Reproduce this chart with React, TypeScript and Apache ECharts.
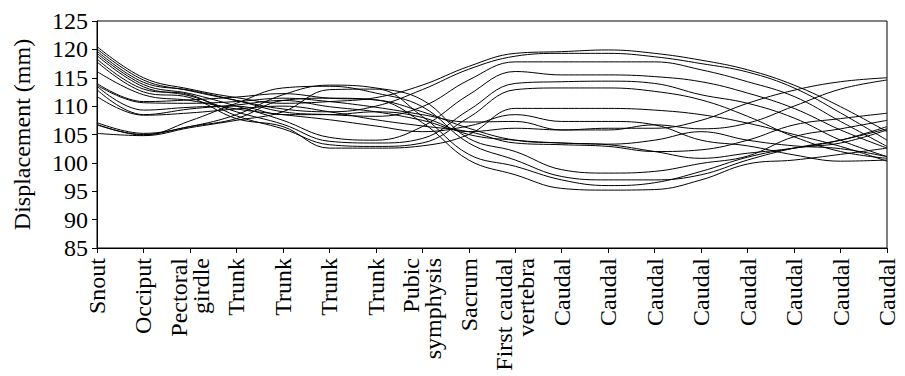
import React, { useEffect, useRef } from "react";
import * as echarts from "echarts";

const categories = [
  "Snout", "Occiput", "Pectoral\ngirdle", "Trunk", "Trunk", "Trunk", "Trunk",
  "Pubic\nsymphysis", "Sacrum", "First caudal\nvertebra",
  "Caudal", "Caudal", "Caudal", "Caudal", "Caudal", "Caudal", "Caudal", "Caudal",
];

const yTicks = { min: 85, max: 125, step: 5 };

const s1 = [120.5, 115.0, 113.0, 111.5, 110.5, 110.8, 111.5, 113.7, 117.0, 119.3, 119.6, 119.9, 119.3, 118.1, 116.4, 113.7, 109.9, 105.5];
const s2 = [120.1, 114.6, 112.7, 111.0, 109.5, 109.0, 110.0, 112.9, 116.5, 118.8, 119.3, 119.3, 118.7, 117.5, 116.0, 113.2, 108.8, 104.0];
const s3 = [119.7, 114.2, 112.8, 111.0, 109.0, 108.5, 108.2, 109.9, 114.6, 117.8, 117.8, 117.8, 117.8, 116.4, 114.3, 111.7, 107.3, 102.9];
const s4 = [119.3, 113.8, 112.2, 110.0, 107.5, 104.5, 104.0, 106.4, 112.0, 116.1, 115.5, 115.5, 115.2, 114.3, 112.3, 109.6, 105.8, 102.6];
const s5 = [118.9, 113.4, 111.8, 109.0, 106.8, 103.8, 103.5, 104.3, 109.3, 114.0, 114.3, 114.4, 114.0, 112.0, 110.5, 107.9, 104.0, 101.1];
const s6 = [118.3, 113.0, 112.0, 108.3, 106.0, 103.2, 102.9, 103.5, 108.0, 112.9, 113.2, 113.2, 112.6, 111.1, 108.2, 104.6, 102.0, 100.8];
const s7 = [117.8, 112.5, 111.5, 107.8, 106.4, 102.6, 102.6, 103.0, 105.0, 109.6, 109.6, 109.6, 109.3, 108.5, 107.0, 105.0, 102.9, 100.3];
const s8 = [116.1, 112.0, 111.0, 109.5, 108.5, 107.6, 106.5, 105.5, 106.5, 108.5, 107.3, 107.3, 106.7, 104.0, 103.0, 101.4, 100.3, 100.5];
const s9 = [114.0, 110.8, 111.1, 111.6, 112.2, 111.4, 111.1, 109.0, 106.1, 104.0, 103.5, 103.2, 102.0, 100.8, 101.7, 102.6, 104.0, 106.4];
const s10 = [113.7, 110.6, 110.5, 110.8, 111.4, 110.8, 109.8, 108.5, 107.2, 107.3, 105.8, 106.1, 106.1, 107.5, 110.5, 112.8, 114.3, 115.0];
const s11 = [112.9, 108.5, 109.5, 110.2, 111.0, 109.9, 109.0, 107.5, 105.5, 106.1, 105.8, 105.8, 106.7, 106.0, 107.0, 110.0, 113.0, 114.6];
const s12 = [111.7, 108.4, 108.8, 109.5, 110.0, 109.0, 107.6, 106.5, 105.5, 103.5, 103.2, 102.9, 102.0, 102.3, 104.0, 106.7, 107.8, 108.75];
const s13 = [107.1, 105.2, 106.4, 108.5, 112.0, 113.7, 113.2, 111.1, 104.3, 102.0, 98.8, 98.2, 98.5, 99.9, 101.2, 104.6, 106.0, 107.5];
const s14 = [106.8, 104.9, 107.4, 110.5, 113.2, 113.5, 112.3, 109.9, 103.5, 100.5, 97.6, 97.0, 97.0, 97.9, 100.5, 102.6, 104.0, 106.0];
const s15 = [105.2, 104.8, 106.2, 107.5, 109.0, 112.9, 113.0, 108.2, 101.5, 99.4, 97.0, 96.0, 96.5, 98.5, 101.0, 102.6, 103.5, 105.8];
const s16 = [106.7, 105.0, 106.4, 107.8, 111.0, 111.4, 111.1, 107.1, 100.5, 97.9, 95.5, 95.2, 95.3, 97.0, 99.8, 100.5, 101.5, 102.6];
const s17 = [113.5, 109.3, 109.8, 110.0, 108.5, 108.5, 109.0, 108.0, 105.0, 104.0, 103.5, 103.3, 104.0, 105.5, 104.0, 103.0, 102.5, 101.1];

const allSeries = [s1, s2, s3, s4, s5, s6, s7, s8, s9, s10, s11, s12, s13, s14, s15, s16, s17];

const FONT = "'Liberation Serif', 'Times New Roman', serif";

export default function App() {
  const ref = useRef<HTMLDivElement>(null);
  useEffect(() => {
    if (!ref.current) return;
    const chart = echarts.init(ref.current, undefined, { renderer: "svg" });
    chart.setOption({
      animation: false,
      backgroundColor: "#ffffff",
      grid: {
        left: 97,
        right: 18,
        top: 21,
        bottom: 128,
        show: true,
        borderColor: "#000",
        borderWidth: 1,
      },
      xAxis: {
        type: "category",
        data: categories,
        boundaryGap: false,
        axisLine: { lineStyle: { color: "#000", width: 1 } },
        axisTick: { show: true, length: 5, inside: false, lineStyle: { color: "#000" } },
        axisLabel: {
          rotate: 90,
          interval: 0,
          margin: 10,
          color: "#000",
          fontFamily: FONT,
          fontSize: 24,
          lineHeight: 22,
        },
        splitLine: { show: false },
      },
      yAxis: {
        type: "value",
        min: yTicks.min,
        max: yTicks.max,
        interval: yTicks.step,
        name: "Displacement (mm)",
        nameLocation: "middle",
        nameGap: 63,
        nameTextStyle: { color: "#000", fontFamily: FONT, fontSize: 24 },
        axisLine: { show: true, lineStyle: { color: "#000", width: 1 } },
        axisTick: { show: true, length: 5, lineStyle: { color: "#000" } },
        axisLabel: { color: "#000", fontFamily: FONT, fontSize: 24, margin: 9 },
        splitLine: { show: false },
      },
      series: allSeries.map((d, i) => ({
        type: "line",
        name: "S" + (i + 1),
        data: d,
        smooth: 0.4,
        symbol: "none",
        lineStyle: { color: "#000", width: 1 },
        silent: true,
      })),
    });
    return () => chart.dispose();
  }, []);
  return (
    <div
      ref={ref}
      style={{ position: "absolute", left: 0, top: 0, width: 905, height: 376 }}
    />
  );
}
